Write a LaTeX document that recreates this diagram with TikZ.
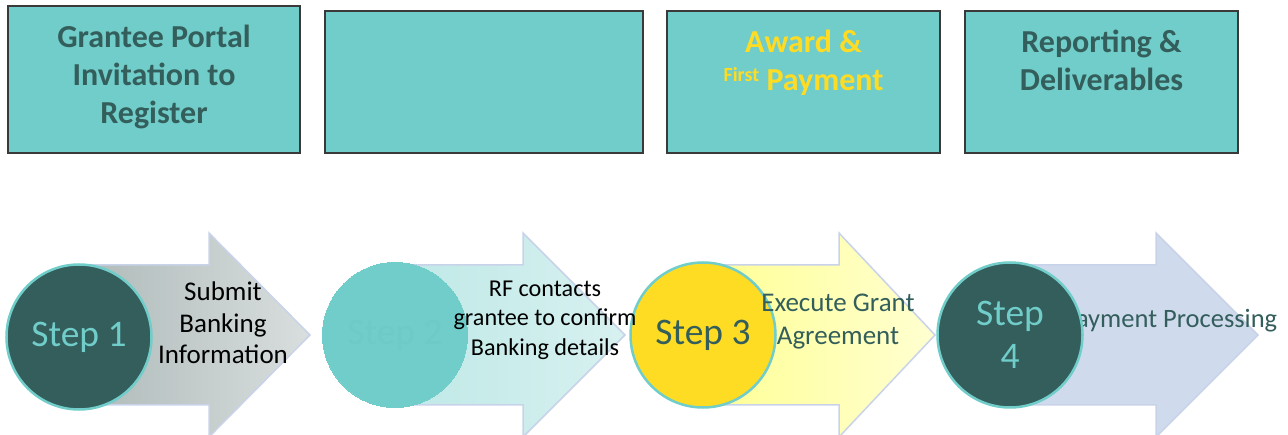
\documentclass[tikz,border=0pt]{standalone}
\usepackage{fontspec}
\setmainfont{Carlito}
\usetikzlibrary{positioning}
\definecolor{boxteal}{HTML}{70CDC9}
\definecolor{darkteal}{HTML}{335E5B}
\definecolor{boxline}{HTML}{3A3A3A}
\definecolor{gold}{HTML}{FFDC24}
\definecolor{arrowline}{HTML}{C8D3EA}
\definecolor{grayleft}{HTML}{AEBAB9}
\definecolor{grayright}{HTML}{D9DEDE}
\begin{document}
\begin{tikzpicture}[x=1pt, y=-1pt,
  box/.style={draw=boxline, fill=boxteal, line width=1.1pt, inner sep=0pt},
  title/.style={font=\bfseries\fontsize{32}{38}\selectfont, text=darkteal, align=center, inner sep=0pt},
  band/.style={draw=arrowline, line width=1.5pt},
  stepdot/.style={circle, minimum size=145pt, inner sep=0pt, draw=boxteal, line width=2.5pt, font=\fontsize{37.5}{43}\selectfont, align=center},
  arrowtext/.style={font=\fontsize{26}{31}\selectfont, align=center, inner sep=0pt}]
\useasboundingbox (0,0) rectangle (1288,435);

\node[box, minimum width=292pt, minimum height=147pt] (box1) at (154,79.5) {};
\node[box, minimum width=318pt, minimum height=142pt] (box2) at (484,82) {};
\node[box, minimum width=273pt, minimum height=142pt] (box3) at (803.5,82) {};
\node[box, minimum width=273pt, minimum height=142pt] (box4) at (1101.5,82) {};

\node[title, below=19pt of box1.north] (title1) {Grantee Portal\\Invitation to\\Register};
\node[title, text=gold, below=19pt of box3.north] (title3) {Award \&\\{\fontsize{20}{20}\selectfont\raisebox{9pt}{First}} Payment};
\node[title, below=19pt of box4.north] (title4) {Reporting \&\\Deliverables};

\draw[band, left color=grayleft, right color=grayright] (80,265) -- (209,265) -- (209,233) -- (310,335) -- (209,437) -- (209,405) -- (80,405) -- cycle;
\draw[band, left color=boxteal!45, right color=boxteal!28] (395,265) -- (523,265) -- (523,233) -- (625,335) -- (523,437) -- (523,405) -- (395,405) -- cycle;
\draw[band, left color=yellow!42, right color=yellow!18] (703,265) -- (839,265) -- (839,233) -- (935,335) -- (839,437) -- (839,405) -- (703,405) -- cycle;
\draw[band, fill=arrowline!85] (1010,265) -- (1156,265) -- (1156,233) -- (1258,335) -- (1156,437) -- (1156,405) -- (1010,405) -- cycle;

\node[arrowtext, text=darkteal, font=\fontsize{26.5}{31}\selectfont] (pay) at (1170,321) {Payment Processing};

\node[stepdot, fill=darkteal, text=boxteal] (step1) at (79,337) {Step 1};
\node[stepdot, fill=boxteal, text=boxteal!97!darkteal, line width=0pt] (step2) at (395,335) {Step 2};
\node[stepdot, fill=gold, text=darkteal] (step3) at (703,335) {Step 3};
\node[stepdot, fill=darkteal, text=boxteal] (step4) at (1010,335) {Step\\4};

\node[arrowtext, font=\fontsize{27}{31.5}\selectfont] (submit) at (223,323) {Submit\\Banking\\Information};
\node[arrowtext, font=\fontsize{24.2}{29.5}\selectfont] (contact) at (545,320) {RF contacts\\grantee to confirm\\Banking details};
\node[arrowtext, text=darkteal, font=\fontsize{27}{33}\selectfont] (execute) at (838,322) {Execute Grant\\Agreement};

\end{tikzpicture}
\end{document}
